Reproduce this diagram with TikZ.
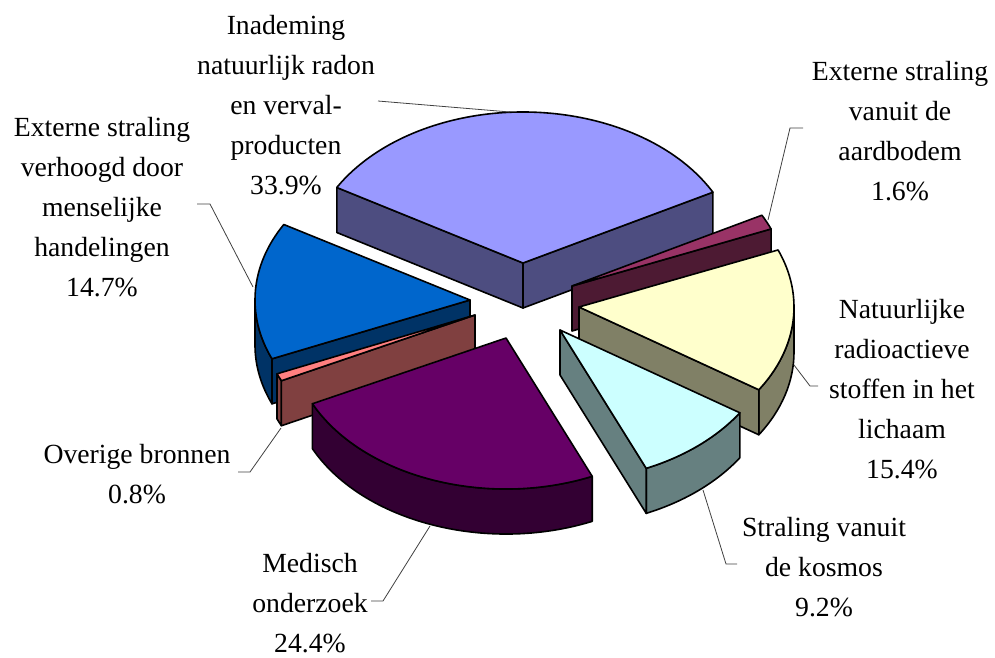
\documentclass[tikz,border=0pt]{standalone}
\usepackage{fontspec}
\setmainfont{Liberation Serif}
\usepackage{xcolor}
\usetikzlibrary{calc}

\definecolor{radonTop}{HTML}{9999FF}  \definecolor{radonSide}{HTML}{4D4D80}
\definecolor{aardTop}{HTML}{993366}   \definecolor{aardSide}{HTML}{4D1A33}
\definecolor{natTop}{HTML}{FFFFCC}    \definecolor{natSide}{HTML}{808066}
\definecolor{kosTop}{HTML}{CCFFFF}    \definecolor{kosSide}{HTML}{668080}
\definecolor{medTop}{HTML}{660066}    \definecolor{medSide}{HTML}{330033}
\definecolor{ovTop}{HTML}{FF8080}     \definecolor{ovSide}{HTML}{804040}
\definecolor{verhTop}{HTML}{0066CC}   \definecolor{verhSide}{HTML}{003366}

\begin{document}
\begin{tikzpicture}[x=1pt, y=1pt,
  every node/.style={font=\fontsize{27.7}{40}\selectfont, align=center},
  slice/.style={draw=black, line width=1.6pt, line join=round},
  leader/.style={draw=black!75, line width=0.8pt},
  rim/.style={x radius=215, y radius=151}]
  \useasboundingbox (0,0) rectangle (995,-657);
  % apex of every (exploded) slice
  \coordinate (radon) at (523,-263);
  \coordinate (aard) at (572,-286);
  \coordinate (verh) at (470,-300);
  \coordinate (nat) at (579,-307);
  \coordinate (ov) at (475,-315);
  \coordinate (kos) at (560,-330);
  \coordinate (med) at (506,-338);

  % radon, 27.96 -- 150
  \filldraw[slice, fill=radonSide] (radon) -- ++(150:215 and 151) -- ++(0,-45) -- ++(330:215 and 151) -- cycle;
  \filldraw[slice, fill=radonSide] (radon) -- ++(27.96:215 and 151) -- ++(0,-45) -- ++(207.96:215 and 151) -- cycle;
  \filldraw[slice, fill=radonTop] (radon) -- ++(27.96:215 and 151) arc[rim, start angle=27.96, end angle=150] -- cycle;

  % aardbodem, 22.2 -- 27.96
  \filldraw[slice, fill=aardSide] (aard) -- ++(22.2:215 and 151) -- ++(0,-45) -- ++(202.2:215 and 151) -- cycle;
  \filldraw[slice, fill=aardTop] (aard) -- ++(22.2:215 and 151) arc[rim, start angle=22.2, end angle=27.96] -- cycle;

  % verhoogd, 150 -- 202.92
  \filldraw[slice, fill=verhSide] (verh) ++(180:215 and 151) arc[rim, start angle=180, end angle=202.92] -- ++(0,-45) arc[rim, start angle=202.92, end angle=180] -- cycle;
  \filldraw[slice, fill=verhSide] (verh) -- ++(202.92:215 and 151) -- ++(0,-45) -- ++(22.92:215 and 151) -- cycle;
  \filldraw[slice, fill=verhTop] (verh) -- ++(150:215 and 151) arc[rim, start angle=150, end angle=202.92] -- cycle;

  % natuurlijke, -33.24 -- 22.2
  \filldraw[slice, fill=natSide] (nat) ++(-33.24:215 and 151) arc[rim, start angle=-33.24, end angle=0] -- ++(0,-45) arc[rim, start angle=0, end angle=-33.24] -- cycle;
  \filldraw[slice, fill=natSide] (nat) -- ++(-33.24:215 and 151) -- ++(0,-45) -- ++(146.76:215 and 151) -- cycle;
  \filldraw[slice, fill=natTop] (nat) -- ++(-33.24:215 and 151) arc[rim, start angle=-33.24, end angle=22.2] -- cycle;

  % overige, -157.08 -- -154.2
  \filldraw[slice, fill=ovSide] (ov) ++(-157.08:215 and 151) arc[rim, start angle=-157.08, end angle=-154.2] -- ++(0,-45) arc[rim, start angle=-154.2, end angle=-157.08] -- cycle;
  \filldraw[slice, fill=ovSide] (ov) -- ++(-154.2:215 and 151) -- ++(0,-45) -- ++(25.8:215 and 151) -- cycle;
  \filldraw[slice, fill=ovTop] (ov) -- ++(-157.08:215 and 151) arc[rim, start angle=-157.08, end angle=-154.2] -- cycle;

  % kosmos, -66.36 -- -33.24
  \filldraw[slice, fill=kosSide] (kos) ++(-66.36:215 and 151) arc[rim, start angle=-66.36, end angle=-33.24] -- ++(0,-45) arc[rim, start angle=-33.24, end angle=-66.36] -- cycle;
  \filldraw[slice, fill=kosSide] (kos) -- ++(-66.36:215 and 151) -- ++(0,-45) -- ++(113.64:215 and 151) -- cycle;
  \filldraw[slice, fill=kosTop] (kos) -- ++(-66.36:215 and 151) arc[rim, start angle=-66.36, end angle=-33.24] -- cycle;

  % medisch, -154.2 -- -66.36
  \filldraw[slice, fill=medSide] (med) ++(-154.2:215 and 151) arc[rim, start angle=-154.2, end angle=-66.36] -- ++(0,-45) arc[rim, start angle=-66.36, end angle=-154.2] -- cycle;
  \filldraw[slice, fill=medTop] (med) -- ++(-154.2:215 and 151) arc[rim, start angle=-154.2, end angle=-66.36] -- cycle;

  % labels
  \node (radonLbl) at (286,-105) {Inademing\\natuurlijk radon\\en verval-\\producten\\33.9\%};
  \node (verhLbl) at (102,-207) {Externe straling\\verhoogd door\\menselijke\\handelingen\\14.7\%};
  \node (aardLbl) at (900,-131) {Externe straling\\vanuit de\\aardbodem\\1.6\%};
  \node (natLbl) at (902,-389) {Natuurlijke\\radioactieve\\stoffen in het\\lichaam\\15.4\%};
  \node (kosLbl) at (824,-567) {Straling vanuit\\de kosmos\\9.2\%};
  \node (ovLbl) at (137,-474) {Overige bronnen\\0.8\%};
  \node (medLbl) at (310,-603) {Medisch\\onderzoek\\24.4\%};

  % leader lines
  \coordinate (radonL) at (378,-101);  \coordinate (radonP) at (510,-112);
  \coordinate (verhL) at (197,-204);   \coordinate (verhP) at (253,-287);
  \coordinate (aardL) at (803,-128);   \coordinate (aardP) at (768,-220);
  \coordinate (natL) at (818,-386);    \coordinate (natP) at (794,-365);
  \coordinate (kosL) at (737,-564);    \coordinate (kosP) at (703,-490);
  \coordinate (ovL) at (238,-472);     \coordinate (ovP) at (281,-428);
  \coordinate (medL) at (371,-601);    \coordinate (medP) at (430,-526);
  \draw[leader] (radonL) -- (radonP);
  \draw[leader] (verhL) -- ++(13,0) -- (verhP);
  \draw[leader] (aardL) -- ++(-13,0) -- (aardP);
  \draw[leader] (natL) -- ++(-8,0) -- (natP);
  \draw[leader] (kosL) -- ++(-11,0) -- (kosP);
  \draw[leader] (ovL) -- ++(12,0) -- (ovP);
  \draw[leader] (medL) -- ++(12,0) -- (medP);
\end{tikzpicture}
\end{document}
